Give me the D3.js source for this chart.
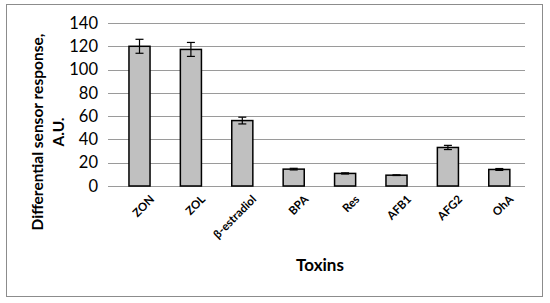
<!DOCTYPE html>
<html>
<head>
<meta charset="utf-8">
<script src="https://cdn.jsdelivr.net/npm/d3@7"></script>
<style>
  body { margin: 0; background: #fff; }
  #wrap { position: relative; width: 550px; height: 303px; }
  #chart { position: absolute; left: 0; top: 0; }
  .xlab {
    position: absolute;
    white-space: nowrap;
    line-height: 1;
    font-family: Lato, "Open Sans", sans-serif;
    font-size: 11.5px;
    font-weight: bold;
    transform-origin: 0 0;
    transform: rotate(-45deg) translate(-100%, 0);
  }
</style>
</head>
<body>
<div id="wrap"><svg id="chart" width="550" height="303"></svg></div>
<script>
// toxins and their sensor responses
const toxins = ["ZON", "ZOL", "β-estradiol", "BPA", "Res", "AFB1", "AFG2", "OhA"];
const response = [120, 117.3, 56.2, 14.5, 10.8, 9.3, 33.1, 14.2];
const errors = [6, 6, 2.9, 0.7, 0.5, 0.3, 1.8, 0.8];
const yTicks = [0, 20, 40, 60, 80, 100, 120, 140];

const font = "Lato, 'Open Sans', sans-serif";
const svg = d3.select("#chart");

// outer frame
svg.append("rect")
  .attr("x", 6.5).attr("y", 4.5)
  .attr("width", 536).attr("height", 292)
  .attr("fill", "none")
  .attr("stroke", "#8c8c8c")
  .attr("stroke-width", 1);

const plotLeft = 108, plotRight = 525;
const y = d3.scaleLinear().domain([0, 140]).range([186, 23]);
const x = d3.scaleBand().domain(toxins).range([113.8, 525]).paddingInner(0.59).paddingOuter(0.295);

// gridlines (also the zero line)
svg.append("g")
  .selectAll("line")
  .data(yTicks)
  .join("line")
  .attr("x1", plotLeft).attr("x2", plotRight)
  .attr("y1", d => Math.round(y(d)) + 0.5)
  .attr("y2", d => Math.round(y(d)) + 0.5)
  .attr("stroke", "#9a9a9a")
  .attr("stroke-width", 1.2);

// y axis labels
const yAxis = svg.append("g")
  .attr("transform", `translate(${plotLeft},0)`)
  .call(d3.axisLeft(y).tickValues(yTicks).tickSize(0).tickPadding(10));
yAxis.select(".domain").remove();
yAxis.selectAll("text")
  .attr("font-size", 16.5)
  .attr("fill", "#000")
  .attr("font-family", font);

// bars
svg.append("g")
  .selectAll("rect")
  .data(toxins)
  .join("rect")
  .attr("x", d => x(d))
  .attr("y", (d, i) => y(response[i]))
  .attr("width", x.bandwidth())
  .attr("height", (d, i) => y(0) - y(response[i]))
  .attr("fill", "#c0c0c0")
  .attr("stroke", "#000")
  .attr("stroke-width", 1.5);

// error bars
const eb = svg.append("g").attr("stroke", "#000").attr("stroke-width", 1.2);
toxins.forEach((t, i) => {
  const cx = x(t) + x.bandwidth() / 2;
  const top = y(response[i] + errors[i]);
  const bot = y(response[i] - errors[i]);
  eb.append("line").attr("x1", cx).attr("x2", cx).attr("y1", top).attr("y2", bot);
  eb.append("line").attr("x1", cx - 4).attr("x2", cx + 4).attr("y1", top).attr("y2", top);
  eb.append("line").attr("x1", cx - 4).attr("x2", cx + 4).attr("y1", bot).attr("y2", bot);
});

// x category labels, slanted 45 degrees (html overlay, right end at the tick)
d3.select("#wrap")
  .selectAll("div.xlab")
  .data(toxins)
  .join("div")
  .attr("class", "xlab")
  .style("left", d => (x(d) + x.bandwidth() / 2 + 8) + "px")
  .style("top", "193px")
  .text(d => d);

// axis titles
svg.append("text")
  .attr("x", 320).attr("y", 271)
  .attr("text-anchor", "middle")
  .attr("font-family", font)
  .attr("font-size", 17)
  .attr("font-weight", "bold")
  .text("Toxins");

const yTitle = svg.append("text")
  .attr("transform", "translate(43,132) rotate(-90)")
  .attr("text-anchor", "middle")
  .attr("font-family", font)
  .attr("font-size", 15.5)
  .attr("font-weight", "bold");
yTitle.append("tspan").attr("x", 0).attr("dy", 0).text("Differential sensor response,");
yTitle.append("tspan").attr("x", 0).attr("dy", 21).text("A.U.");
</script>
</body>
</html>
